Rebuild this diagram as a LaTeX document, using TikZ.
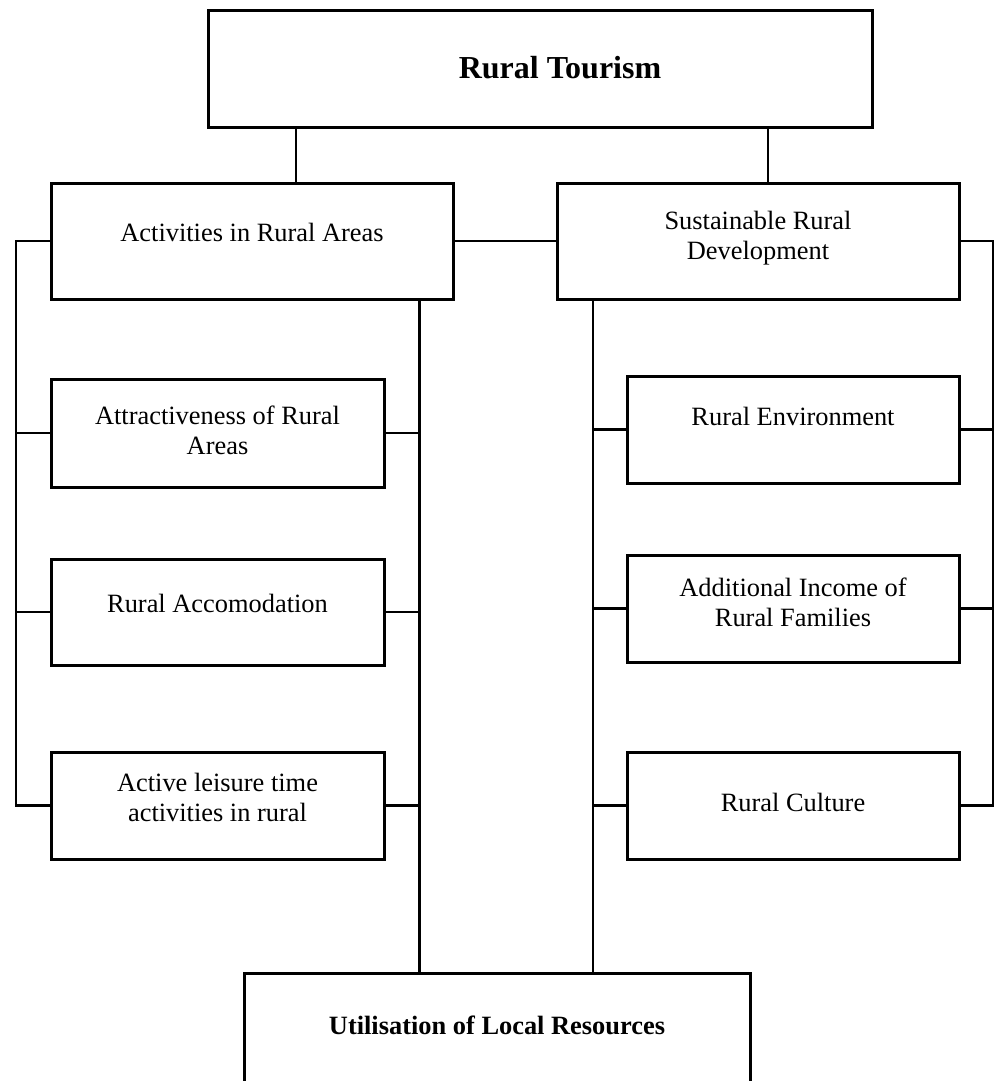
\documentclass[tikz,border=0pt]{standalone}
\usepackage{fontspec}
\setmainfont{Liberation Serif}
\tikzset{
  box/.style={draw=black, line width=3pt, rectangle, inner sep=0pt, align=center,
    font=\fontsize{26.4}{30}\selectfont, fill=white},
  conn/.style={draw=black, line width=2.6pt},
}
\begin{document}
\begin{tikzpicture}[x=1pt,y=-1pt]
\useasboundingbox (0,0) rectangle (995,1081);
% top
\node[box, minimum width=664pt, minimum height=116pt, text height=49pt, text depth=31pt,
  font=\fontsize{32}{36}\selectfont\bfseries] (RT) at (540,69) {\hspace*{40pt}Rural Tourism};
% second row
\node[box, minimum width=402pt, minimum height=116pt, text height=40pt, text depth=40pt] (AR) at (252,241) {Activities in Rural Areas};
\node[box, minimum width=402pt, minimum height=116pt, text height=58pt, text depth=22pt] (SD) at (758,241) {Sustainable Rural\\Development};
% left column
\node[box, minimum width=333pt, minimum height=108pt, text height=61pt, text depth=19pt] (L1) at (217.5,433) {Attractiveness of Rural\\Areas};
\node[box, minimum width=333pt, minimum height=106pt, text height=40pt, text depth=40pt] (L2) at (217.5,612) {Rural Accomodation};
\node[box, minimum width=333pt, minimum height=107pt, text height=55.5pt, text depth=24.5pt] (L3) at (217.5,805.5) {Active leisure time\\activities in rural};
% right column
\node[box, minimum width=332pt, minimum height=107pt, text height=36pt, text depth=44pt] (R1) at (793,429.5) {Rural Environment};
\node[box, minimum width=332pt, minimum height=107pt, text height=57.5pt, text depth=22.5pt] (R2) at (793,608.5) {Additional Income of\\Rural Families};
\node[box, minimum width=332pt, minimum height=107pt, text height=46pt, text depth=34pt] (R3) at (793,805.5) {Rural Culture};
% bottom
\node[box, minimum width=506pt, minimum height=127pt, text height=37.5pt, text depth=42.5pt,
  font=\fontsize{26.4}{30}\selectfont\bfseries] (UT) at (497,1036.5) {Utilisation of Local Resources};
% bus coordinates
\coordinate (c1) at (296,0);
\coordinate (c2) at (768,0);
\coordinate (lb) at (16,0);
\coordinate (ilb) at (419.5,0);
\coordinate (irb) at (593,0);
\coordinate (rb) at (993,0);
% connectors
\draw[conn] (RT.south -| c1) -- (AR.north -| c1);
\draw[conn] (RT.south -| c2) -- (SD.north -| c2);
\draw[conn] (AR.east) -- (SD.west);
\draw[conn] (AR.west) -- (AR.west -| lb) -- (L3.west -| lb) -- (L3.west);
\draw[conn] (L1.west -| lb) -- (L1.west);
\draw[conn] (L2.west -| lb) -- (L2.west);
\draw[conn] (AR.south -| ilb) -- (UT.north -| ilb);
\draw[conn] (L1.east) -- (L1.east -| ilb);
\draw[conn] (L2.east) -- (L2.east -| ilb);
\draw[conn] (L3.east) -- (L3.east -| ilb);
\draw[conn] (SD.south -| irb) -- (UT.north -| irb);
\draw[conn] (R1.west -| irb) -- (R1.west);
\draw[conn] (R2.west -| irb) -- (R2.west);
\draw[conn] (R3.west -| irb) -- (R3.west);
\draw[conn] (SD.east) -- (SD.east -| rb) -- (R3.east -| rb) -- (R3.east);
\draw[conn] (R1.east) -- (R1.east -| rb);
\draw[conn] (R2.east) -- (R2.east -| rb);
\end{tikzpicture}
\end{document}
